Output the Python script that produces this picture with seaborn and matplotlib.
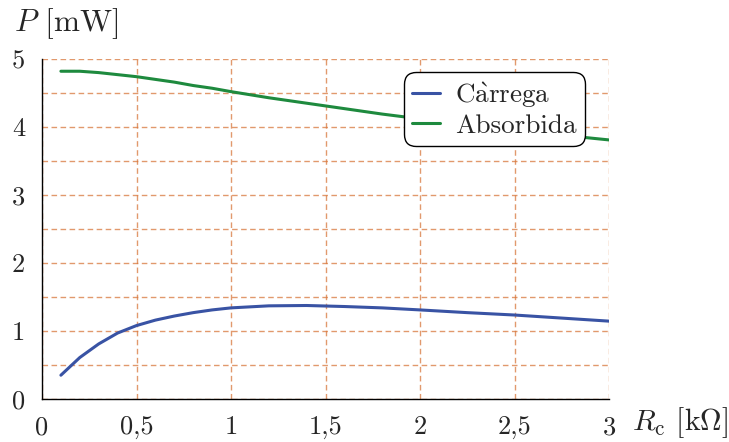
import numpy as np
import pandas as pd
import matplotlib
matplotlib.use("Agg")
import matplotlib.pyplot as plt
from matplotlib.ticker import MultipleLocator
import seaborn as sns

# data
r_load = [0.1, 0.2, 0.3, 0.4, 0.5, 0.6, 0.7, 0.8, 0.9, 1.0, 1.2, 1.4, 1.6, 1.8, 2.0, 2.25, 2.5, 2.75, 3.0]
p_carrega = [0.35, 0.61, 0.81, 0.97, 1.08, 1.16, 1.22, 1.27, 1.31, 1.34, 1.37, 1.375, 1.36, 1.34, 1.31, 1.27, 1.235, 1.19, 1.145]
p_absorbida = [4.82, 4.82, 4.80, 4.77, 4.74, 4.70, 4.66, 4.61, 4.57, 4.52, 4.43, 4.35, 4.27, 4.19, 4.12, 4.04, 3.96, 3.88, 3.81]
series_names = ["Càrrega", "Absorbida"]
x_ticks = [0, 0.5, 1, 1.5, 2, 2.5, 3]
x_ticklabels = ["0", "0,5", "1", "1,5", "2", "2,5", "3"]
y_ticks = [0, 1, 2, 3, 4, 5]
y_ticklabels = ["0", "1", "2", "3", "4", "5"]

df = pd.DataFrame({
    "R": r_load * 2,
    "P": p_carrega + p_absorbida,
    "serie": [series_names[0]] * len(r_load) + [series_names[1]] * len(r_load),
})

sns.set_style("white")
plt.rcParams["font.family"] = ["cmr10", "DejaVu Serif"]
plt.rcParams["mathtext.fontset"] = "cm"
plt.rcParams["grid.color"] = "#d8773c"
plt.rcParams["grid.linestyle"] = (0, (4, 2.5))
plt.rcParams["grid.linewidth"] = 1.0
plt.rcParams["grid.alpha"] = 0.75

fig = plt.figure(figsize=(7.29, 4.42), dpi=100)
ax = fig.add_axes([42 / 729, 1 - 399 / 442, 567 / 729, 340 / 442])

sns.lineplot(data=df, x="R", y="P", hue="serie", palette=["#3953a4", "#1e8a3e"],
             linewidth=2.2, ax=ax)

ax.set_xlim(0, 3)
ax.set_ylim(0, 5)
ax.set_xticks(x_ticks)
ax.set_xticklabels(x_ticklabels)
ax.set_yticks(y_ticks)
ax.set_yticklabels(y_ticklabels)
ax.xaxis.set_minor_locator(MultipleLocator(0.1))
ax.yaxis.set_minor_locator(MultipleLocator(0.5))
ax.tick_params(axis="both", which="major", direction="out", length=5, width=1,
               labelsize=19, color="black", pad=7)
ax.tick_params(axis="x", which="minor", direction="out", length=3, width=0.8, color="black")
ax.tick_params(axis="y", which="minor", direction="out", length=5, width=0.8, color="black")

ax.grid(True, which="major", axis="x")
ax.grid(True, which="both", axis="y")
ax.set_axisbelow(True)

for side in ["top", "right"]:
    ax.spines[side].set_visible(False)
for side in ["left", "bottom"]:
    ax.spines[side].set_color("black")
    ax.spines[side].set_linewidth(1)

ax.set_xlabel("")
ax.set_ylabel("")
fig.text(14 / 729, 1 - 24 / 442, r"$P$ [mW]", fontsize=22.5, va="center", ha="left")
fig.text(632 / 729, 1 - 423 / 442, r"$R_{\mathrm{c}}$ [k$\Omega$]", fontsize=21.5, va="center", ha="left")

handles, labels = ax.get_legend_handles_labels()
leg = ax.legend(handles, [r"C$\mathrm{\grave{a}}$rrega", "Absorbida"],
                loc="upper right", bbox_to_anchor=((585 - 42) / 567, (399 - 72) / 340),
                borderaxespad=0, fontsize=19.5, frameon=True, fancybox=True,
                edgecolor="black", framealpha=1, handlelength=1.05, handletextpad=0.55,
                borderpad=0.3, labelspacing=0.15)
leg.get_frame().set_linewidth(1)
leg.get_frame().set_boxstyle("round", pad=0, rounding_size=0.45)

fig.savefig("out.png", dpi=100)
